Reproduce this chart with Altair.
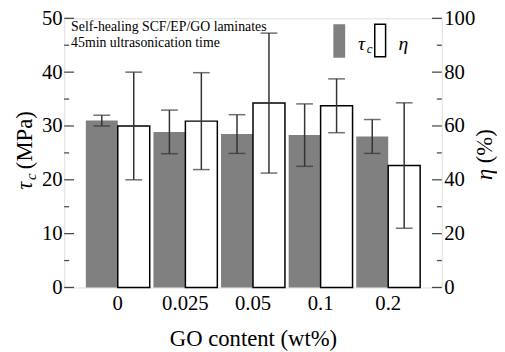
import altair as alt
import pandas as pd

go = ["0", "0.025", "0.05", "0.1", "0.2"]
tau = [31.0, 28.9, 28.5, 28.3, 28.05]
tau_err = [1.0, 4.05, 3.6, 5.8, 3.15]
eta = [60.0, 61.8, 68.5, 67.5, 45.3]
eta_err = [20.0, 18.0, 26.0, 10.0, 23.3]

tau_ticks_major = [0, 10, 20, 30, 40, 50]
tau_ticks_minor = [5, 15, 25, 35, 45]
eta_ticks_major = [0, 20, 40, 60, 80, 100]
eta_ticks_minor = [10, 30, 50, 70, 90]

W, H = 383, 273
FONT = "Liberation Serif, Times New Roman, Times, DejaVu Serif, serif"

tau_df = pd.DataFrame({"GO": go, "val": tau,
                       "lo": [v - e for v, e in zip(tau, tau_err)],
                       "hi": [v + e for v, e in zip(tau, tau_err)],
                       "series": "tau"})
eta_df = pd.DataFrame({"GO": go, "val": eta,
                       "lo": [v - e for v, e in zip(eta, eta_err)],
                       "hi": [v + e for v, e in zip(eta, eta_err)],
                       "series": "eta"})

xenc = alt.X("GO:N", sort=go,
             scale=alt.Scale(paddingInner=0.055, paddingOuter=0.32),
             axis=alt.Axis(title="GO content (wt%)", labelAngle=0, ticks=False,
                           tickSize=0, domain=False, labelFontSize=21,
                           labelPadding=5, titleFontSize=23, titlePadding=15,
                           titleFontWeight="normal", labelColor="black",
                           titleColor="black", labelFont=FONT, titleFont=FONT))
xoff = alt.XOffset("series:N", scale=alt.Scale(domain=["tau", "eta"], paddingInner=0, paddingOuter=0))

tau_scale = alt.Scale(domain=[0, 50], nice=False, zero=True)
eta_scale = alt.Scale(domain=[0, 100], nice=False, zero=True)

tau_axis = alt.Axis(orient="left", title=None, values=tau_ticks_major, ticks=False,
                    tickSize=0, domain=False, grid=False, labelFontSize=21,
                    labelPadding=2, labelColor="black", labelFont=FONT)
eta_axis = alt.Axis(orient="right", title=None, values=eta_ticks_major, ticks=False,
                    tickSize=0, domain=False, grid=False, labelFontSize=21,
                    labelPadding=2, labelColor="black", labelFont=FONT)

ERR_COLOR = "#333333"
TICK_COLOR = "black"
xplain = alt.X("GO:N", sort=go)

tau_bars = alt.Chart(tau_df).mark_bar(color="#808080").encode(
    x=xenc, xOffset=xoff, y=alt.Y("val:Q", scale=tau_scale, axis=tau_axis))
tau_err_rule = alt.Chart(tau_df).mark_rule(color=ERR_COLOR, strokeWidth=1.5).encode(
    x=xplain, xOffset=xoff,
    y=alt.Y("lo:Q", scale=tau_scale, axis=tau_axis), y2="hi:Q")
tau_cap_hi = alt.Chart(tau_df).mark_tick(color=ERR_COLOR, size=17, thickness=1.5, orient="horizontal").encode(
    x=xplain, xOffset=xoff, y=alt.Y("hi:Q", scale=tau_scale, axis=tau_axis))
tau_cap_lo = alt.Chart(tau_df).mark_tick(color=ERR_COLOR, size=17, thickness=1.5, orient="horizontal").encode(
    x=xplain, xOffset=xoff, y=alt.Y("lo:Q", scale=tau_scale, axis=tau_axis))
tau_tk_major = alt.Chart(pd.DataFrame({"v": tau_ticks_major})).mark_tick(
    color=TICK_COLOR, size=10, thickness=1.3, orient="horizontal").encode(
    x=alt.value(5), y=alt.Y("v:Q", scale=tau_scale, axis=tau_axis))
tau_tk_minor = alt.Chart(pd.DataFrame({"v": tau_ticks_minor})).mark_tick(
    color=TICK_COLOR, size=5, thickness=1.3, orient="horizontal").encode(
    x=alt.value(2.5), y=alt.Y("v:Q", scale=tau_scale, axis=tau_axis))

tau_layer = alt.layer(tau_bars, tau_err_rule, tau_cap_hi, tau_cap_lo, tau_tk_major, tau_tk_minor)

eta_bars = alt.Chart(eta_df).mark_bar(color="white", stroke="black", strokeWidth=1.5).encode(
    x=xplain, xOffset=xoff, y=alt.Y("val:Q", scale=eta_scale, axis=eta_axis))
eta_err_rule = alt.Chart(eta_df).mark_rule(color=ERR_COLOR, strokeWidth=1.5).encode(
    x=xplain, xOffset=xoff,
    y=alt.Y("lo:Q", scale=eta_scale, axis=eta_axis), y2="hi:Q")
eta_cap_hi = alt.Chart(eta_df).mark_tick(color=ERR_COLOR, size=17, thickness=1.5, orient="horizontal").encode(
    x=xplain, xOffset=xoff, y=alt.Y("hi:Q", scale=eta_scale, axis=eta_axis))
eta_cap_lo = alt.Chart(eta_df).mark_tick(color=ERR_COLOR, size=17, thickness=1.5, orient="horizontal").encode(
    x=xplain, xOffset=xoff, y=alt.Y("lo:Q", scale=eta_scale, axis=eta_axis))
eta_tk_major = alt.Chart(pd.DataFrame({"v": eta_ticks_major})).mark_tick(
    color=TICK_COLOR, size=10, thickness=1.3, orient="horizontal").encode(
    x=alt.value(W - 5), y=alt.Y("v:Q", scale=eta_scale, axis=eta_axis))
eta_tk_minor = alt.Chart(pd.DataFrame({"v": eta_ticks_minor})).mark_tick(
    color=TICK_COLOR, size=5, thickness=1.3, orient="horizontal").encode(
    x=alt.value(W - 2.5), y=alt.Y("v:Q", scale=eta_scale, axis=eta_axis))

eta_layer = alt.layer(eta_bars, eta_err_rule, eta_cap_hi, eta_cap_lo, eta_tk_major, eta_tk_minor)

one = pd.DataFrame({"a": [0]})

def txt(text, x, y, size, italic=False, angle=0, align="left", baseline="alphabetic"):
    kw = dict(text=text, fontSize=size, font=FONT, color="black", align=align, baseline=baseline)
    if italic:
        kw["fontStyle"] = "italic"
    if angle:
        kw["angle"] = angle
    return alt.Chart(one).mark_text(**kw).encode(x=alt.value(x), y=alt.value(y))

# annotation
ann1 = txt("Self-healing SCF/EP/GO laminates", 7, 13, 14)
ann2 = txt("45min ultrasonication time", 7, 29, 14)

# legend
leg_gray = alt.Chart(one).mark_rect(color="#808080").encode(
    x=alt.value(273), x2=alt.value(285), y=alt.value(6), y2=alt.value(40))
leg_white = alt.Chart(one).mark_rect(fill="white", stroke="black", strokeWidth=1.5).encode(
    x=alt.value(315), x2=alt.value(326), y=alt.value(6), y2=alt.value(39))
leg_tau = txt("τ", 298, 32, 20, italic=True)
leg_c = txt("c", 307, 35, 13, italic=True)
leg_eta = txt("η", 339, 32, 20, italic=True)

# left axis title (rotated)
lt_tau = txt("τ", -40, 174, 23, italic=True, angle=270, baseline="middle")
lt_c = txt("c", -34, 164, 15, italic=True, angle=270, baseline="middle")
lt_mpa = txt("(MPa)", -40, 153, 23, angle=270, baseline="middle")

# right axis title (rotated)
rt_eta = txt("η", 427, 164, 23, italic=True, angle=270, baseline="middle")
rt_pct = txt("(%)", 427, 147, 23, angle=270, baseline="middle")

chart = alt.layer(
    tau_layer, eta_layer,
    ann1, ann2, leg_gray, leg_white, leg_tau, leg_c, leg_eta,
    lt_tau, lt_c, lt_mpa, rt_eta, rt_pct
).resolve_scale(y="independent").properties(
    width=W, height=H,
    padding={"left": 57, "top": 8, "right": 56, "bottom": 63},
    autosize=alt.AutoSizeParams(type="none"),
).configure_view(stroke="black", strokeWidth=1.5).configure(font=FONT).configure_axis(ticks=False, tickSize=0)

chart.save("out.html", embed_options={"renderer": "svg", "actions": False})
